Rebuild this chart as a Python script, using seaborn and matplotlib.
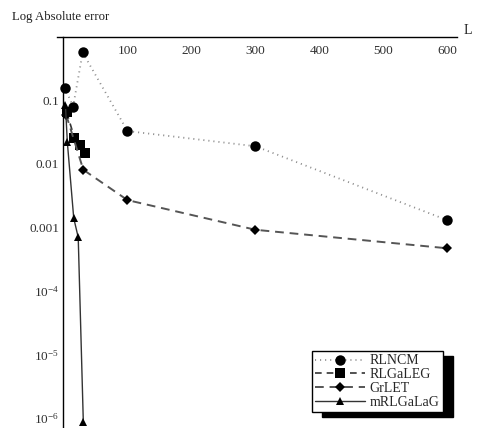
"""
Log absolute error against L for four methods, Mathematica style axes.
"""
import numpy as np
import pandas as pd
import matplotlib
matplotlib.use("Agg")
from matplotlib import pyplot as plt
from matplotlib import ticker
import seaborn as sns

# Values
L_rlncm = [2, 15, 30, 100, 300, 600]
err_rlncm = [0.16, 0.08, 0.57, 0.033, 0.019, 0.0013]

L_rlgaleg = [5, 17, 26, 34]
err_rlgaleg = [0.065, 0.026, 0.020, 0.015]

L_grlet = [4, 31, 100, 300, 600]
err_grlet = [0.06, 0.0081, 0.0027, 0.00092, 0.00047]

L_mrlgalag = [3, 6, 16, 23, 31]
err_mrlgalag = [0.085, 0.022, 0.0014, 0.0007, 8.5e-7]

x_ticks = [100, 200, 300, 400, 500, 600]
y_ticks = [0.1, 0.01, 0.001, 1e-4, 1e-5, 1e-6]
y_tick_labels = ["0.1", "0.01", "0.001", r"$10^{-4}$", r"$10^{-5}$", r"$10^{-6}$"]

sns.set_style("white")
plt.rcParams["font.family"] = ["Liberation Serif", "DejaVu Serif"]
plt.rcParams["mathtext.fontset"] = "custom"
plt.rcParams["mathtext.rm"] = "Liberation Serif"
plt.rcParams["mathtext.it"] = "Liberation Serif:italic"

fig = plt.figure(figsize=(4.79, 4.28), dpi=100)
ax = fig.add_axes([0.1192, 0.0026, 0.835, 0.911])

series = [
    ("RLNCM", L_rlncm, err_rlncm, "o", 7.5, "#8c8c8c", (0, (0.6, 2.2)), 1.3),
    ("RLGaLEG", L_rlgaleg, err_rlgaleg, "s", 6.5, "#333333", (0, (4, 3)), 1.2),
    ("GrLET", L_grlet, err_grlet, "D", 5.5, "#555555", (0, (4.5, 3)), 1.4),
    ("mRLGaLaG", L_mrlgalag, err_mrlgalag, "^", 5.8, "#333333", "-", 1.0),
]

for name, xs, ys, mk, ms, col, ls, lw in series:
    df = pd.DataFrame({"L": xs, "err": ys})
    sns.lineplot(
        data=df, x="L", y="err", ax=ax, label=name, estimator=None,
        color=col, linestyle=ls, linewidth=lw, marker=mk, markersize=ms,
        markerfacecolor="black", markeredgecolor="black", markeredgewidth=0,
    )

ax.set_yscale("log")
ax.set_xlim(-10, 615)
ax.set_ylim(10 ** -6.14, 1.0)

# Mathematica-like axes: crossing at (0, 1)
ax.spines["right"].set_visible(False)
ax.spines["top"].set_visible(False)
ax.spines["bottom"].set_position(("data", 1.0))
ax.spines["left"].set_position(("data", 0))
for side in ["bottom", "left"]:
    ax.spines[side].set_color("black")
    ax.spines[side].set_linewidth(1.0)

ax.set_xticks(x_ticks)
ax.xaxis.set_minor_locator(ticker.MultipleLocator(20))
ax.set_yticks(y_ticks)
ax.set_yticklabels(y_tick_labels)
ax.yaxis.set_minor_locator(ticker.LogLocator(base=10, subs=np.arange(2, 10)))
ax.yaxis.set_minor_formatter(ticker.NullFormatter())
ax.tick_params(axis="both", which="major", direction="in", length=5,
               width=0.8, labelsize=9.5, colors="black", pad=3)
ax.tick_params(axis="both", which="minor", direction="in", length=2.5,
               width=0.6)
ax.tick_params(axis="x", pad=6)
for lbl in ax.get_xticklabels() + ax.get_yticklabels():
    lbl.set_color("#303030")

ax.set_xlabel("")
ax.set_ylabel("")
fig.text(0.025, 0.975, "Log Absolute error", fontsize=9.2, ha="left", va="top",
         color="#202020")
fig.text(0.968, 0.913, "L", fontsize=10, ha="left", va="bottom", color="#202020")

leg = ax.legend(
    loc="lower left", bbox_to_anchor=(312 / 479, 16 / 428),
    bbox_transform=fig.transFigure, fontsize=10, frameon=True, fancybox=False,
    edgecolor="black", facecolor="white", framealpha=1, handlelength=3.6,
    handletextpad=0.3, borderpad=0.25, labelspacing=0.05, borderaxespad=0,
    shadow={"ox": 7, "oy": -3.5, "facecolor": "black", "edgecolor": "black",
            "alpha": 1},
)
leg.get_frame().set_linewidth(1.0)

plt.savefig("out.png", dpi=100)
